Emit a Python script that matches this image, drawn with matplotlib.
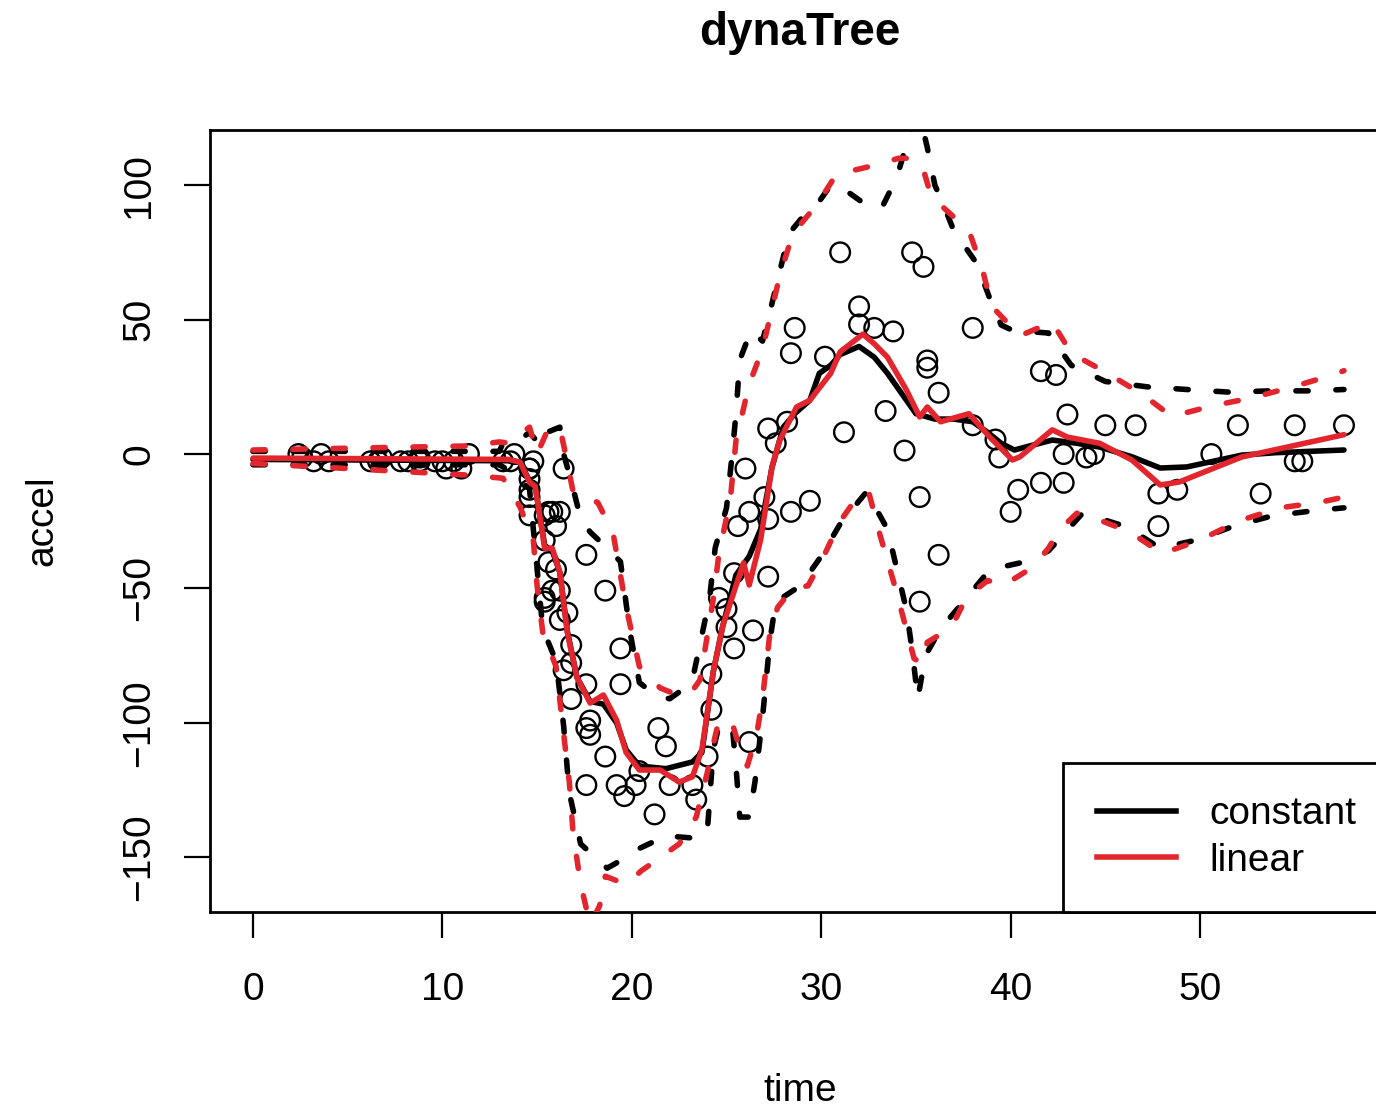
import numpy as np
import matplotlib.pyplot as plt
from matplotlib.lines import Line2D

plt.rcParams['font.family'] = ['Liberation Sans', 'DejaVu Sans']

# motorcycle crash data (time in ms, head acceleration in g)
times = [2.4, 2.6, 3.2, 3.6, 4.0, 6.2, 6.6, 6.8, 7.8, 8.2,
         8.8, 8.8, 9.6, 10.0, 10.2, 10.6, 11.0, 11.4, 13.2, 13.6,
         13.8, 14.6, 14.6, 14.6, 14.6, 14.6, 14.6, 14.8, 15.4, 15.4,
         15.4, 15.4, 15.6, 15.6, 15.8, 15.8, 16.0, 16.0, 16.2, 16.2,
         16.2, 16.4, 16.4, 16.6, 16.8, 16.8, 16.8, 17.6, 17.6, 17.6,
         17.6, 17.8, 17.8, 18.6, 18.6, 19.2, 19.4, 19.4, 19.6, 20.2,
         20.4, 21.2, 21.4, 21.8, 22.0, 23.2, 23.4, 24.0, 24.2, 24.2,
         24.6, 25.0, 25.0, 25.4, 25.4, 25.6, 26.0, 26.2, 26.2, 26.4,
         27.0, 27.2, 27.2, 27.2, 27.6, 28.2, 28.4, 28.4, 28.6, 29.4,
         30.2, 31.0, 31.2, 32.0, 32.0, 32.8, 33.4, 33.8, 34.4, 34.8,
         35.2, 35.2, 35.4, 35.6, 35.6, 36.2, 36.2, 38.0, 38.0, 39.2,
         39.4, 40.0, 40.4, 41.6, 41.6, 42.4, 42.8, 42.8, 43.0, 44.0,
         44.4, 45.0, 46.6, 47.8, 47.8, 48.8, 50.6, 52.0, 53.2, 55.0,
         55.0, 55.4, 57.6]
accel = [0.0, -1.3, -2.7, 0.0, -2.7, -2.7, -2.7, -1.3, -2.7, -2.7,
         -1.3, -2.7, -2.7, -2.7, -5.4, -2.7, -5.4, 0.0, -2.7, -2.7,
         0.0, -13.3, -5.4, -5.4, -9.3, -16.0, -22.8, -2.7, -22.8, -32.1,
         -53.5, -54.9, -40.2, -21.5, -21.5, -50.8, -42.9, -26.8, -21.5, -50.8,
         -61.7, -5.4, -80.4, -59.0, -71.0, -91.1, -77.7, -37.5, -85.6, -123.1,
         -101.9, -99.1, -104.4, -112.5, -50.8, -123.1, -85.6, -72.3, -127.2, -123.1,
         -117.9, -134.0, -101.9, -108.7, -123.1, -123.1, -128.5, -112.5, -95.1, -81.8,
         -53.5, -64.4, -57.6, -72.3, -44.3, -26.8, -5.4, -107.1, -21.5, -65.6,
         -16.0, -45.6, -24.2, 9.5, 4.0, 12.0, -21.5, 37.5, 46.9, -17.4,
         36.2, 75.0, 8.1, 54.9, 48.2, 46.9, 16.0, 45.6, 1.3, 75.0,
         -16.0, -54.9, 69.6, 34.8, 32.1, -37.5, 22.8, 46.9, 10.7, 5.4,
         -1.3, -21.5, -13.3, 30.8, -10.7, 29.4, 0.0, -10.7, 14.7, -1.3,
         0.0, 10.7, 10.7, -26.8, -14.7, -13.3, 0.0, 10.7, -14.7, -2.7,
         10.7, -2.7, 10.7]

# predictive mean, constant leaves
const_x = [0, 13.5, 14.1, 14.6, 14.9, 15.4, 15.8, 16.2, 16.6, 17.1, 17.8, 18.5,
           19.2, 19.7, 20.4, 21.8, 23.2, 23.7, 24.3, 24.8, 25.5, 26.2, 26.8,
           27.4, 28.0, 28.6, 29.4, 29.9, 30.5, 31.0, 32.0, 32.8, 33.5, 34.3,
           35.0, 36.0, 37.0, 38.0, 38.8, 39.5, 40.2, 41.0, 42.2, 43.5, 44.7,
           46.4, 47.9, 49.3, 52.2, 54.0, 57.6]
const_mean = [-2, -2.5, -3, -10, -12, -34, -36, -44, -66, -83, -92, -93,
              -100, -110, -116, -117, -114.5, -111, -81, -64, -45, -38, -28,
              -5, 10, 15, 20, 30, 33, 37, 40, 36, 30, 22,
              15, 13, 13, 12, 8, 4, 1.5, 3, 5.2, 4, 2.6,
              -1, -5.2, -4.8, -0.4, 0.5, 1.5]

# predictive mean, linear leaves
lin_x = [0, 13.5, 14.1, 14.6, 14.9, 15.4, 15.8, 16.2, 16.6, 17.1, 17.8, 18.5,
         19.2, 19.7, 20.4, 21.5, 22.5, 23.2, 23.7, 24.3, 24.8, 25.5, 25.9,
         26.2, 26.8, 27.4, 27.8, 28.3, 28.7, 29.4, 30.5, 31.0, 32.2, 32.8,
         33.5, 34.5, 35.2, 35.6, 36.3, 37.8, 38.9, 40.1, 40.5, 42.2, 43.0,
         44.7, 46.4, 47.9, 48.9, 52.2, 57.6]
lin_mean = [-1.5, -2, -3, -10.4, -12, -35, -35, -44, -66.5, -83, -92.6, -89.6,
            -99, -111, -117.5, -117.5, -122, -120, -110, -81, -64, -49, -40.5,
            -48.7, -32, -4.8, 5, 12, 17.5, 20, 30, 38, 44.6, 41,
            36, 23.8, 13.8, 17.5, 12, 15, 6.3, -2.2, -1, 9, 6.3,
            4, -2.2, -11.5, -10.4, -1.1, 7.2]

# 90% quantiles, constant leaves
const_up_x = [0, 13.0, 13.2, 14.0, 14.6, 15.2, 15.5, 16.2, 16.4, 16.8, 17.3,
              17.8, 18.7, 19.4, 19.9, 20.4, 21.3, 22.0, 22.6, 23.2, 24.1,
              24.4, 25.0, 25.3, 25.5, 25.7, 26.3, 26.9, 27.4, 28.3, 29.0,
              29.8, 30.5, 31.0, 31.5, 32.7, 33.3, 34.0, 34.7, 35.1, 35.4,
              35.6, 36.0, 36.5, 37.0, 38.2, 39.0, 39.5, 40.1, 42.0, 43.2,
              45.0, 47.2, 49.3, 51.6, 53.7, 55.9, 57.6]
const_up = [1, 1, 4, 5, 8, 3, 8, 10, 0, -10, -24,
            -29, -35, -40, -66, -85, -90, -91, -88, -84, -54,
            -35, -20, 0, 15, 35, 46, 42, 56, 82, 88,
            93, 100, 100, 97, 91, 93, 103, 120, 126, 120,
            114, 100, 92, 83, 71, 56, 48, 46, 45, 33,
            27, 25, 24, 23, 23.5, 23.5, 24]
const_lo_x = [0, 13.0, 13.5, 14.6, 15.3, 16.0, 16.4, 16.7, 17.3, 18.7, 19.7,
              20.3, 21.8, 23.6, 24.0, 24.3, 24.6, 25.3, 25.5, 25.7, 26.2,
              26.5, 26.9, 27.3, 27.6, 28.9, 30.0, 31.0, 32.4, 33.5, 34.0,
              34.5, 34.8, 35.1, 35.5, 36.3, 37.5, 38.9, 40.8, 42.0, 43.8,
              46.1, 47.9, 49.8, 51.7, 53.8, 56.1, 57.6]
const_lo = [-4, -4, -6, -13, -65, -77, -101, -126, -145, -154, -150,
            -147, -142, -143, -139, -110, -101, -101, -116, -135, -135,
            -122, -98, -69, -55, -49, -38, -26, -14, -28, -43,
            -58, -73, -91, -75, -65, -55, -43, -40, -36, -22,
            -27, -35, -32, -27, -23, -21, -20]

# 90% quantiles, linear leaves
lin_up_x = [0, 11.3, 13.0, 13.6, 14.2, 14.6, 15.0, 15.5, 16.2, 16.5, 16.9,
            18.2, 19.0, 19.7, 20.4, 21.5, 22.2, 23.1, 23.6, 24.3, 24.6,
            25.2, 25.5, 26.2, 26.9, 27.3, 27.8, 28.5, 29.8, 30.8, 32.6,
            34.1, 34.7, 35.3, 35.8, 36.4, 37.8, 38.5, 39.0, 39.4, 40.5,
            41.5, 42.2, 43.2, 45.0, 47.0, 48.5, 50.7, 52.8, 54.9, 57.0, 57.6]
lin_up = [1.5, 3, 4.5, 4, 8, 10, 0, 8, 10, 0, -14,
          -18, -29, -57, -79, -87, -89, -89, -84, -54, -37,
          -17, 5, 26, 39, 51, 66, 82, 93, 104, 107,
          110, 110, 108, 96, 92, 83, 69, 55, 52, 44,
          47, 49, 37.5, 30.5, 22, 14, 18, 21, 25, 29.4, 31]
lin_lo_x = [0, 11.3, 13.2, 14.1, 14.8, 15.0, 15.3, 16.0, 16.4, 16.7, 16.9,
            17.3, 17.8, 18.3, 18.6, 19.7, 20.5, 21.3, 22.5, 23.4, 24.0,
            24.3, 24.6, 25.3, 25.8, 26.1, 26.6, 26.9, 27.3, 27.7, 28.5,
            29.3, 30.0, 31.0, 32.0, 32.5, 33.1, 33.8, 34.3, 34.9, 35.3,
            35.6, 36.3, 36.9, 37.7, 38.8, 39.6, 40.5, 41.2, 42.0, 42.6,
            43.5, 44.5, 46.3, 48.0, 50.0, 52.0, 54.2, 56.3, 57.6]
lin_lo = [-3.5, -7.8, -9, -19.7, -32, -49, -66.5, -79, -104, -122, -141,
          -160, -175, -168, -157, -160, -155, -151, -145, -135, -118,
          -108, -99, -100, -112, -116, -104, -91, -66, -57, -50,
          -49, -40, -25, -15, -14, -30, -47, -60, -76, -78,
          -70, -67, -64, -53, -47, -49, -45, -42, -35, -28,
          -22, -24, -29, -37, -32, -25, -20, -18, -16]

red = '#e3262d'
lw = 4.0
dash = (2.2, 5.0)

fig = plt.figure(figsize=(13.76, 11.08), dpi=100)
ax = fig.add_axes([210 / 1376, 196 / 1108, 1180 / 1376, 782 / 1108])

ax.scatter(times, accel, s=200, facecolors='none', edgecolors='black',
           linewidths=1.7, zorder=2)

# constant model
ax.plot(const_x, const_mean, color='black', lw=lw, solid_capstyle='round', zorder=3)
ax.plot(const_up_x, const_up, color='black', lw=lw, dashes=dash,
        dash_capstyle='round', zorder=3)
ax.plot(const_lo_x, const_lo, color='black', lw=lw, dashes=dash,
        dash_capstyle='round', zorder=3)

# linear model
ax.plot(lin_x, lin_mean, color=red, lw=lw, solid_capstyle='round', zorder=4)
ax.plot(lin_up_x, lin_up, color=red, lw=lw, dashes=dash,
        dash_capstyle='round', zorder=4)
ax.plot(lin_lo_x, lin_lo, color=red, lw=lw, dashes=dash,
        dash_capstyle='round', zorder=4)

ax.set_xlim(-2.27, 60.03)
ax.set_ylim(-170.3, 120.5)
ax.set_xticks([0, 10, 20, 30, 40, 50])
ax.set_yticks([-150, -100, -50, 0, 50, 100])

for s in ax.spines.values():
    s.set_linewidth(2)
ax.spines['right'].set_visible(False)

ax.tick_params(axis='x', direction='out', length=19, width=1.6,
               labelsize=28, pad=24, top=False)
ax.tick_params(axis='y', direction='out', length=19, width=1.6,
               labelsize=28, pad=19, right=False)
plt.setp(ax.get_yticklabels(), rotation=90, va='center')

ax.set_xlabel('time', fontsize=28, va='baseline')
ax.xaxis.set_label_coords(0.5, -0.2417)
ax.set_ylabel('accel', fontsize=28, va='baseline')
ax.yaxis.set_label_coords(-0.1339, 0.5)

ax.set_title('dynaTree', fontsize=33, fontweight='bold', y=1.1087,
             va='baseline', pad=0)

handles = [Line2D([], [], color='black', lw=lw),
           Line2D([], [], color=red, lw=lw)]
leg = ax.legend(handles, ['constant', 'linear'], loc='lower right',
                bbox_to_anchor=(1, 0), borderaxespad=0, fontsize=28,
                fancybox=False, framealpha=1, edgecolor='black',
                handlelength=2.05, handletextpad=0.85, borderpad=0.86,
                labelspacing=0.26)
leg.get_frame().set_linewidth(2)

fig.savefig('out.png', dpi=100)
